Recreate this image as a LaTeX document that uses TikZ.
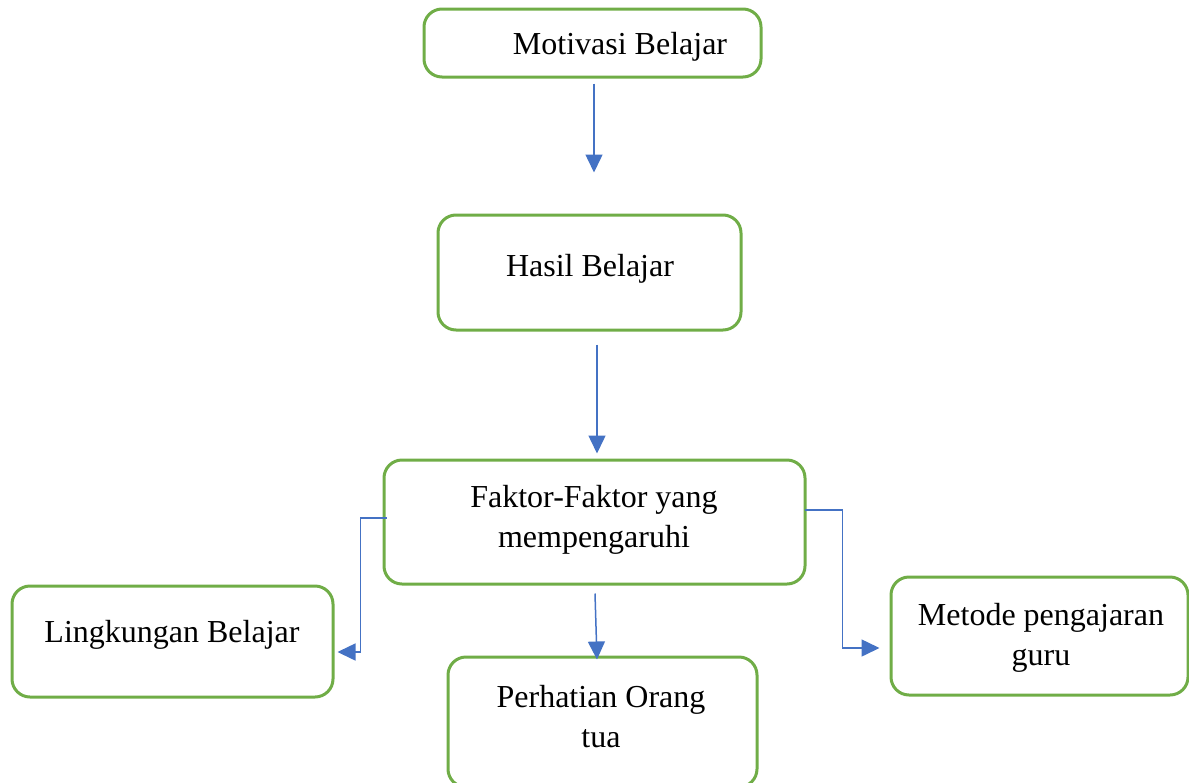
\documentclass[tikz,border=0pt]{standalone}
\usepackage{fontspec}
\setmainfont{Liberation Serif}
\usetikzlibrary{arrows.meta,calc}
\definecolor{boxgreen}{HTML}{70AD47}
\definecolor{arrblue}{HTML}{4472C4}
\tikzset{
  box/.style={draw=boxgreen, line width=3pt, rounded corners=18pt, rectangle, inner sep=0pt},
  lbl/.style={font=\fontsize{32}{40}\selectfont, align=center, inner sep=0pt, text=black},
  conn/.style={draw=arrblue, line width=1.5pt, -{Triangle[length=18pt,width=17pt]}},
}
\begin{document}
\begin{tikzpicture}[x=1pt,y=-1pt]
\useasboundingbox (0,0) rectangle (1189,782);
\clip (0,0) rectangle (1189,782);
\node[box, minimum width=337pt, minimum height=68pt] (mot) at (592.5,43) {};
\node[box, minimum width=303pt, minimum height=115pt] (has) at (589.5,272.5) {};
\node[box, minimum width=421pt, minimum height=124pt] (fak) at (594.5,522) {};
\node[box, minimum width=321pt, minimum height=111pt] (lin) at (172.5,641.5) {};
\node[box, minimum width=309pt, minimum height=130pt] (per) at (602.5,722) {};
\node[box, minimum width=297pt, minimum height=118pt] (met) at (1039.5,636) {};

\node[lbl] (tmot) at (620,47) {Motivasi Belajar};
\node[lbl] (thas) at (590,269) {Hasil Belajar};
\node[lbl] (tfak) at (594,520) {Faktor-Faktor yang\\mempengaruhi};
\node[lbl] (tlin) at (172,635) {Lingkungan Belajar};
\node[lbl] (tper) at (601,717) {Perhatian Orang\\tua};
\node[lbl] (tmet) at (1041,638) {Metode pengajaran\\guru};

\draw[conn] ($(mot.south)+(1.5,5)$) -- ($(has.north)+(4.5,-41)$);
\draw[conn] ($(has.south)+(7.5,13)$) -- ($(fak.north)+(2.5,-5)$);
\draw[conn] ($(fak.south)+(0.5,8)$) -- ($(per.north)+(-5.5,4)$);
\draw[conn] ($(fak.west)+(4,-4)$) -- ++(-26,0) |- ($(lin.east)+(3,10.5)$);
\draw[conn] ($(fak.east)+(-2,-12)$) -- ++(38,0) |- ($(met.west)+(-10,12)$);
\end{tikzpicture}
\end{document}
